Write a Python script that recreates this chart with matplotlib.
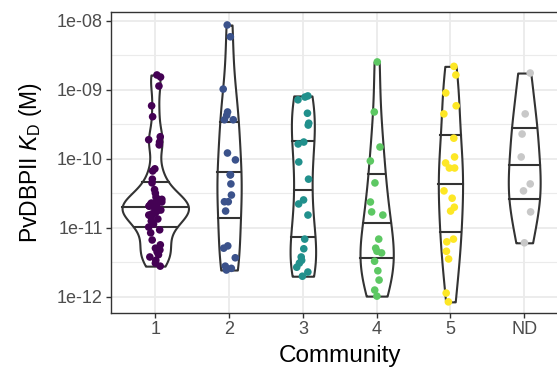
import numpy as np
import matplotlib
matplotlib.use('Agg')
import matplotlib.pyplot as plt
from matplotlib.ticker import FixedLocator, FixedFormatter

plt.rcParams['font.family'] = ['Liberation Sans', 'DejaVu Sans']
plt.rcParams['mathtext.fontset'] = 'custom'
plt.rcParams['mathtext.rm'] = 'Liberation Sans'
plt.rcParams['mathtext.it'] = 'Liberation Sans:italic'

# categories and colours (viridis, ND in grey)
communities = ['1', '2', '3', '4', '5', 'ND']
colors = ['#440154', '#3B528B', '#21908C', '#5DC863', '#FDE725', '#C8C8C8']

# KD values (M)
kd_1 = [1.65e-9, 1.54e-9, 1.14e-9, 5.9e-10, 4.1e-10, 2.1e-10, 1.9e-10, 1.76e-10, 1.6e-10,
        7.2e-11, 6.7e-11, 5.1e-11, 4.5e-11, 3.6e-11, 3.2e-11, 2.8e-11, 2.6e-11, 2.55e-11,
        2.46e-11, 2.38e-11, 2.3e-11, 2.23e-11, 2.15e-11, 2.08e-11, 2.08e-11, 1.95e-11,
        1.88e-11, 1.82e-11, 1.76e-11, 1.71e-11, 1.65e-11, 1.6e-11, 1.54e-11, 1.44e-11,
        1.35e-11, 1.26e-11, 1.14e-11, 1.03e-11, 9.4e-12, 8.5e-12, 6.7e-12, 5.7e-12,
        5.1e-12, 4.8e-12, 4.5e-12, 4.1e-12, 3.8e-12, 3.4e-12, 3.1e-12, 2.8e-12]
kd_2 = [8.75e-9, 5.9e-9, 1.03e-9, 4.8e-10, 4.3e-10, 3.7e-10, 3.7e-10, 1.22e-10, 9.7e-11,
        5.9e-11, 5.9e-11, 4.35e-11, 3.0e-11, 2.4e-11, 2.4e-11, 1.76e-11, 5.5e-12, 5.1e-12,
        3.7e-12, 2.8e-12, 2.6e-12, 2.46e-12]
kd_3 = [8.2e-10, 7.9e-10, 7.2e-10, 4.6e-10, 3.3e-10, 3.1e-10, 1.76e-10, 1.65e-10, 9.05e-11,
        5.1e-11, 2.55e-11, 2.23e-11, 1.54e-11, 6.9e-12, 5.0e-12, 3.8e-12, 3.4e-12, 3.1e-12,
        2.7e-12, 2.3e-12, 2.0e-12]
kd_4 = [2.55e-9, 4.8e-10, 1.49e-10, 9.35e-11, 4.5e-11, 2.38e-11, 1.71e-11, 1.54e-11, 6.9e-12,
        5.1e-12, 4.6e-12, 4.35e-12, 3.3e-12, 2.4e-12, 1.76e-12, 1.26e-12, 1.03e-12]
kd_5 = [2.2e-9, 1.65e-9, 9.05e-10, 5.9e-10, 4.5e-10, 2.0e-10, 1.07e-10, 8.75e-11, 7.4e-11,
        7.4e-11, 3.45e-11, 2.7e-11, 2.0e-11, 1.76e-11, 6.9e-12, 6.3e-12, 4.6e-12, 3.55e-12,
        1.14e-12, 8.5e-13]
kd_nd = [1.76e-9, 4.5e-10, 2.3e-10, 1.07e-10, 4.35e-11, 3.45e-11, 1.71e-11, 6.1e-12]

groups = [kd_1, kd_2, kd_3, kd_4, kd_5, kd_nd]

ytick_vals = [1e-12, 1e-11, 1e-10, 1e-9, 1e-8]
ytick_labels = ['1e-12', '1e-11', '1e-10', '1e-09', '1e-08']


# kernel density in log10 space, like ggplot's stat_ydensity (nrd0, trimmed)
def density(vals):
    y = np.log10(vals)
    n = len(y)
    q75, q25 = np.percentile(y, [75, 25])
    bw = 0.9 * min(np.std(y, ddof=1), (q75 - q25) / 1.34) * n ** -0.2
    grid = np.linspace(y.min(), y.max(), 512)
    d = np.exp(-0.5 * ((grid[:, None] - y[None, :]) / bw) ** 2).sum(1)
    d = d / (n * bw * np.sqrt(2 * np.pi))
    return grid, d


dens = [density(g) for g in groups]
dmax = max(d.max() for _, d in dens)

fig = plt.figure(figsize=(5.57, 3.73), dpi=100)
ax = fig.add_axes([111 / 557, 60 / 373, 457.5 / 557, 301 / 373])

edge = '#333333'
rng = np.random.default_rng(7)
for i, (g, (grid, d), c) in enumerate(zip(groups, dens, colors)):
    x0 = i + 1
    half = 0.45 * d / dmax
    ax.fill_betweenx(10 ** grid, x0 - half, x0 + half, facecolor='white',
                     edgecolor=edge, lw=1.5, zorder=2)
    cum = np.cumsum(d) / d.sum()
    yq = np.interp([0.25, 0.5, 0.75], cum, grid)
    wq = np.interp(yq, grid, half)
    for yy, ww in zip(yq, wq):
        ax.plot([x0 - ww, x0 + ww], [10 ** yy] * 2, color=edge, lw=1.5, zorder=2)
    xs = x0 + rng.uniform(-0.09, 0.09, len(g))
    ax.scatter(xs, g, s=30, color=c, edgecolors='none', zorder=3)

ax.set_yscale('log')
ax.set_ylim(10 ** -12.232, 10 ** -7.87)
ax.set_xlim(0.4, 6.6)

ax.yaxis.set_major_locator(FixedLocator(ytick_vals))
ax.yaxis.set_major_formatter(FixedFormatter(ytick_labels))
ax.yaxis.set_minor_locator(FixedLocator([10 ** -8.5, 10 ** -9.5, 10 ** -10.5, 10 ** -11.5]))
ax.yaxis.set_minor_formatter(FixedFormatter([]))
ax.set_xticks(range(1, 7))
ax.set_xticklabels(communities)

ax.grid(True, which='major', color='#EBEBEB', lw=1.3, zorder=0)
ax.grid(True, which='minor', axis='y', color='#EBEBEB', lw=0.8, zorder=0)
ax.set_axisbelow(True)

ax.tick_params(which='major', length=3.5, width=1.0, color=edge,
               labelcolor='#4D4D4D', labelsize=13, pad=2.5)
ax.tick_params(which='minor', length=0)
for s in ax.spines.values():
    s.set_color(edge)
    s.set_linewidth(1.0)

ax.set_xlabel('Community', fontsize=17.5, labelpad=4.5)
ax.set_ylabel(r'PvDBPII $\mathit{K}_{\mathrm{D}}$ (M)', fontsize=16.5, labelpad=9)

fig.savefig('out.png', dpi=100)
